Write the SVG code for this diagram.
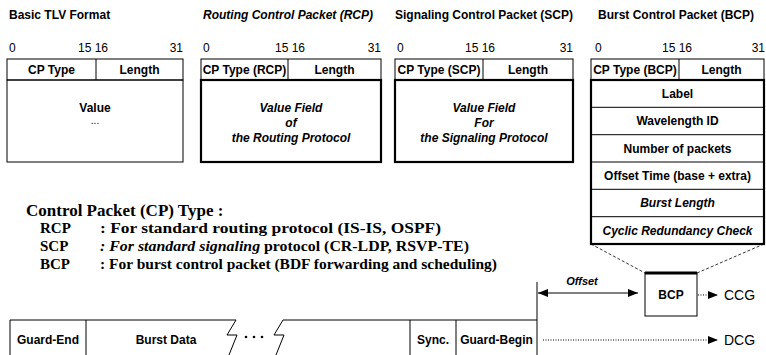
<svg xmlns="http://www.w3.org/2000/svg" width="766" height="355" viewBox="0 0 766 355">
<defs>
<style>
.t{font-family:"Liberation Sans",Arial,Helvetica,sans-serif;font-weight:bold;font-size:12px;fill:#000}
.m{text-anchor:middle}
.e{text-anchor:end}
.i{font-style:italic}
.n{font-weight:normal}
.s{font-family:"Liberation Serif","Times New Roman",serif;font-weight:bold;fill:#000}
.thin{fill:none;stroke:#000;stroke-width:1}
.thick{fill:none;stroke:#000;stroke-width:2.2}
.ln{stroke:#000;stroke-width:1;fill:none}
.dash{stroke:#000;stroke-width:0.8;fill:none;stroke-dasharray:3 2}
.dot{stroke:#000;stroke-width:1;fill:none;stroke-dasharray:1 1.5}
</style>
<marker id="ah" markerUnits="userSpaceOnUse" markerWidth="11" markerHeight="8" refX="10" refY="4" orient="auto-start-reverse" viewBox="0 0 11 8">
<path d="M0,0 L10,4 L0,8 z" fill="#000"/>
</marker>
</defs>
<rect width="766" height="355" fill="#fff"/>

<g id="basic-tlv">
<text class="t" x="9" y="19">Basic TLV Format</text>
<text class="t n" x="9" y="52">0</text>
<text class="t n m" x="93" y="52">15 16</text>
<text class="t n e" x="183" y="52">31</text>
<rect class="thin" x="7" y="59" width="176" height="21"/>
<line class="ln" x1="96" y1="59" x2="96" y2="80"/>
<rect class="thin" x="7" y="80" width="176" height="82"/>
<text class="t m" x="51.5" y="74">CP Type</text>
<text class="t m" x="139.5" y="74">Length</text>
<text class="t m" x="95" y="112">Value</text>
<text class="t n m" x="95" y="124" style="font-size:10px">...</text>
</g>

<g id="rcp">
<text class="t i" x="203" y="19">Routing Control Packet (RCP)</text>
<text class="t n" x="203" y="52">0</text>
<text class="t n m" x="290" y="52">15 16</text>
<text class="t n e" x="381" y="52">31</text>
<rect class="thin" x="201" y="59" width="180" height="21"/>
<line class="ln" x1="288" y1="59" x2="288" y2="80"/>
<rect class="thick" x="201" y="80" width="180" height="82"/>
<text class="t m" x="244.5" y="74">CP Type (RCP)</text>
<text class="t m" x="334.5" y="74">Length</text>
<text class="t i m" x="291" y="112">Value Field</text>
<text class="t i m" x="291" y="127">of</text>
<text class="t i m" x="291" y="142">the Routing Protocol</text>
</g>

<g id="scp">
<text class="t" x="395" y="19">Signaling Control Packet (SCP)</text>
<text class="t n" x="397" y="52">0</text>
<text class="t n m" x="480" y="52">15 16</text>
<text class="t n e" x="573" y="52">31</text>
<rect class="thin" x="395" y="59" width="178" height="21"/>
<line class="ln" x1="483" y1="59" x2="483" y2="80"/>
<rect class="thick" x="395" y="80" width="178" height="82"/>
<text class="t m" x="439" y="74">CP Type (SCP)</text>
<text class="t m" x="528" y="74">Length</text>
<text class="t i m" x="484" y="112">Value Field</text>
<text class="t i m" x="484" y="127">For</text>
<text class="t i m" x="484" y="142">the Signaling Protocol</text>
</g>

<g id="bcp">
<text class="t" x="598" y="19">Burst Control Packet (BCP)</text>
<text class="t n" x="595" y="52">0</text>
<text class="t n m" x="677" y="52">15 16</text>
<text class="t n e" x="765" y="52">31</text>
<rect class="thin" x="591" y="59" width="173" height="21"/>
<line class="ln" x1="679" y1="59" x2="679" y2="80"/>
<line class="ln" x1="591" y1="107.3" x2="764" y2="107.3"/>
<line class="ln" x1="591" y1="134.7" x2="764" y2="134.7"/>
<line class="ln" x1="591" y1="162" x2="764" y2="162"/>
<line class="ln" x1="591" y1="189.3" x2="764" y2="189.3"/>
<line class="ln" x1="591" y1="216.7" x2="764" y2="216.7"/>
<rect class="thick" x="591" y="80" width="173" height="164"/>
<text class="t m" x="635" y="74">CP Type (BCP)</text>
<text class="t m" x="721.5" y="74">Length</text>
<text class="t m" x="677.5" y="98">Label</text>
<text class="t m" x="677.5" y="125.3">Wavelength ID</text>
<text class="t m" x="677.5" y="152.6">Number of packets</text>
<text class="t m" x="677.5" y="180">Offset Time (base + extra)</text>
<text class="t i m" x="677.5" y="207.3">Burst Length</text>
<text class="t i m" x="677.5" y="234.6">Cyclic Redundancy Check</text>
</g>

<g id="legend">
<text class="s" x="26" y="216" style="font-size:17px">Control Packet (CP) Type :</text>
<text class="s" x="40" y="233" style="font-size:15px">RCP</text>
<text class="s" x="100" y="233" style="font-size:15px" textLength="341" lengthAdjust="spacingAndGlyphs">: For standard routing protocol  (IS-IS, OSPF)</text>
<text class="s" x="40" y="251" style="font-size:15px">SCP</text>
<text class="s" x="100" y="251" style="font-size:15px" textLength="369" lengthAdjust="spacingAndGlyphs"><tspan font-style="italic">: For standard signaling</tspan> protocol (CR-LDP, RSVP-TE)</text>
<text class="s" x="40" y="269" style="font-size:15px">BCP</text>
<text class="s" x="100" y="269" style="font-size:15px" textLength="397" lengthAdjust="spacingAndGlyphs">: For burst control packet (BDF forwarding and scheduling)</text>
</g>

<g id="burst">
<path class="ln" d="M10,355 L10,320 L236,320 L227,335 L237,335 L229,355"/>
<path class="ln" d="M283,320 L274,335 L284,335 L276,355 M283,320 L537,320"/>
<line class="ln" x1="86" y1="320" x2="86" y2="355"/>
<line class="ln" x1="410" y1="320" x2="410" y2="355"/>
<line class="ln" x1="456" y1="320" x2="456" y2="355"/>
<line class="ln" x1="537" y1="282" x2="537" y2="355"/>
<circle cx="246" cy="337" r="1.3" fill="#000"/>
<circle cx="254" cy="337" r="1.3" fill="#000"/>
<circle cx="262" cy="337" r="1.3" fill="#000"/>
<text class="t m" x="48" y="344">Guard-End</text>
<text class="t m" x="166" y="344">Burst Data</text>
<text class="t m" x="433" y="344">Sync.</text>
<text class="t m" x="496.5" y="344">Guard-Begin</text>
</g>

<g id="bcp-small">
<rect class="thin" x="645" y="273" width="52" height="43"/>
<line x1="645" y1="273" x2="697" y2="273" stroke="#000" stroke-width="3"/>
<text class="t m" x="671" y="299">BCP</text>
</g>

<g id="ccg">
<text class="t n" x="724" y="300" style="font-size:14px">CCG</text>
</g>

<g id="dcg">
<text class="t n" x="724" y="345" style="font-size:14px">DCG</text>
</g>

<g id="connectors">
<line class="dash" x1="591" y1="244" x2="645" y2="273"/>
<line class="dash" x1="764" y1="244" x2="697" y2="273"/>
<line class="ln" x1="538" y1="293" x2="638" y2="293" marker-start="url(#ah)" marker-end="url(#ah)"/>
<text class="t i" x="582" y="285" text-anchor="middle" style="font-size:11px">Offset</text>
<line class="dot" x1="698" y1="295" x2="718" y2="295" marker-end="url(#ah)"/>
<line class="dot" x1="543" y1="340" x2="718" y2="340" marker-end="url(#ah)"/>
</g>
</svg>
